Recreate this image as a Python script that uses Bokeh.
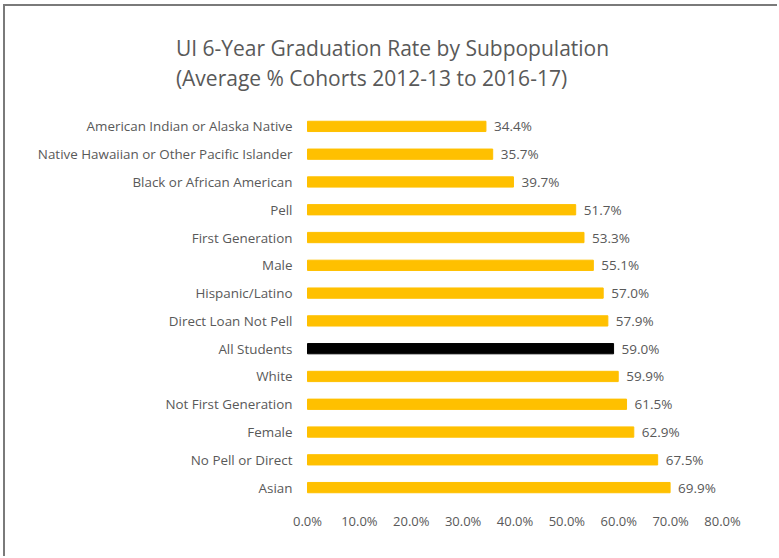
from bokeh.plotting import figure
from bokeh.models import ColumnDataSource, FactorRange, Range1d, NumeralTickFormatter, Title, FixedTicker
from bokeh.core.properties import value
from bokeh.embed import file_html
from bokeh.resources import INLINE

categories = [
    "American Indian or Alaska Native",
    "Native Hawaiian or Other Pacific Islander",
    "Black or African American",
    "Pell",
    "First Generation",
    "Male",
    "Hispanic/Latino",
    "Direct Loan Not Pell",
    "All Students",
    "White",
    "Not First Generation",
    "Female",
    "No Pell or Direct",
    "Asian",
]
rates = [34.4, 35.7, 39.7, 51.7, 53.3, 55.1, 57.0, 57.9, 59.0, 59.9, 61.5, 62.9, 67.5, 69.9]
x_ticks = [0, 10, 20, 30, 40, 50, 60, 70, 80]
title_lines = ["UI 6-Year Graduation Rate by Subpopulation", "(Average % Cohorts 2012-13 to 2016-17)"]

GOLD = "#FFC000"
TEXT = "#595959"
FONT = "Open Sans"

colors = ["#000000" if c == "All Students" else GOLD for c in categories]
labels = [f"{v:.1f}%" for v in rates]
src = ColumnDataSource(dict(cat=categories, val=[v / 100 for v in rates], zero=[0] * len(rates),
                            color=colors, label=labels))

# frame spans the full canvas width: 0 -> window x 307, 0.8 -> window x 722
px_per_unit = (722 - 307) / 0.8
x_start = -(307 - 5) / px_per_unit
x_end = 0.8 + (779 - 722) / px_per_unit

p = figure(
    width=774, height=552,
    y_range=FactorRange(factors=list(reversed(categories)), range_padding=0),
    x_range=Range1d(x_start, x_end),
    output_backend="svg", toolbar_location=None,
    min_border_left=0, min_border_right=0, min_border_top=106, min_border_bottom=57,
)
p.margin = (4, 0, 0, 3)
p.styles = {"border-left": "2px solid #7a7a7a", "border-top": "2px solid #7a7a7a"}

p.hbar(y="cat", right="val", left=0, height=0.37, color="color", source=src)
p.text(x="val", y="cat", text="label", source=src, x_offset=8,
       text_align="left", text_baseline="middle", text_font_size="13.5px",
       text_color=TEXT, text_font=value(FONT))
p.text(x="zero", y="cat", text="cat", source=src, x_offset=-15,
       text_align="right", text_baseline="middle", text_font_size="13.4px",
       text_color=TEXT, text_font=value(FONT))

p.title = Title(text="\n".join(title_lines), align="center", text_font_size="21px",
                text_font_style="normal", text_color=TEXT, text_font=FONT,
                text_line_height=1.08, standoff=40)

p.yaxis.visible = False
p.xaxis.ticker = FixedTicker(ticks=[t / 100 for t in x_ticks])
p.xaxis.formatter = NumeralTickFormatter(format="0.0%")
p.xaxis.axis_line_color = None
p.xaxis.major_tick_line_color = None
p.xaxis.minor_tick_line_color = None
p.xaxis.major_label_text_color = TEXT
p.xaxis.major_label_text_font = FONT
p.xaxis.major_label_text_font_size = "13px"
p.xaxis.major_label_standoff = 4
p.xgrid.grid_line_color = None
p.ygrid.grid_line_color = None
p.outline_line_color = None
p.background_fill_color = "white"
p.border_fill_color = "white"

open("out.html", "w").write(file_html(p, INLINE))
